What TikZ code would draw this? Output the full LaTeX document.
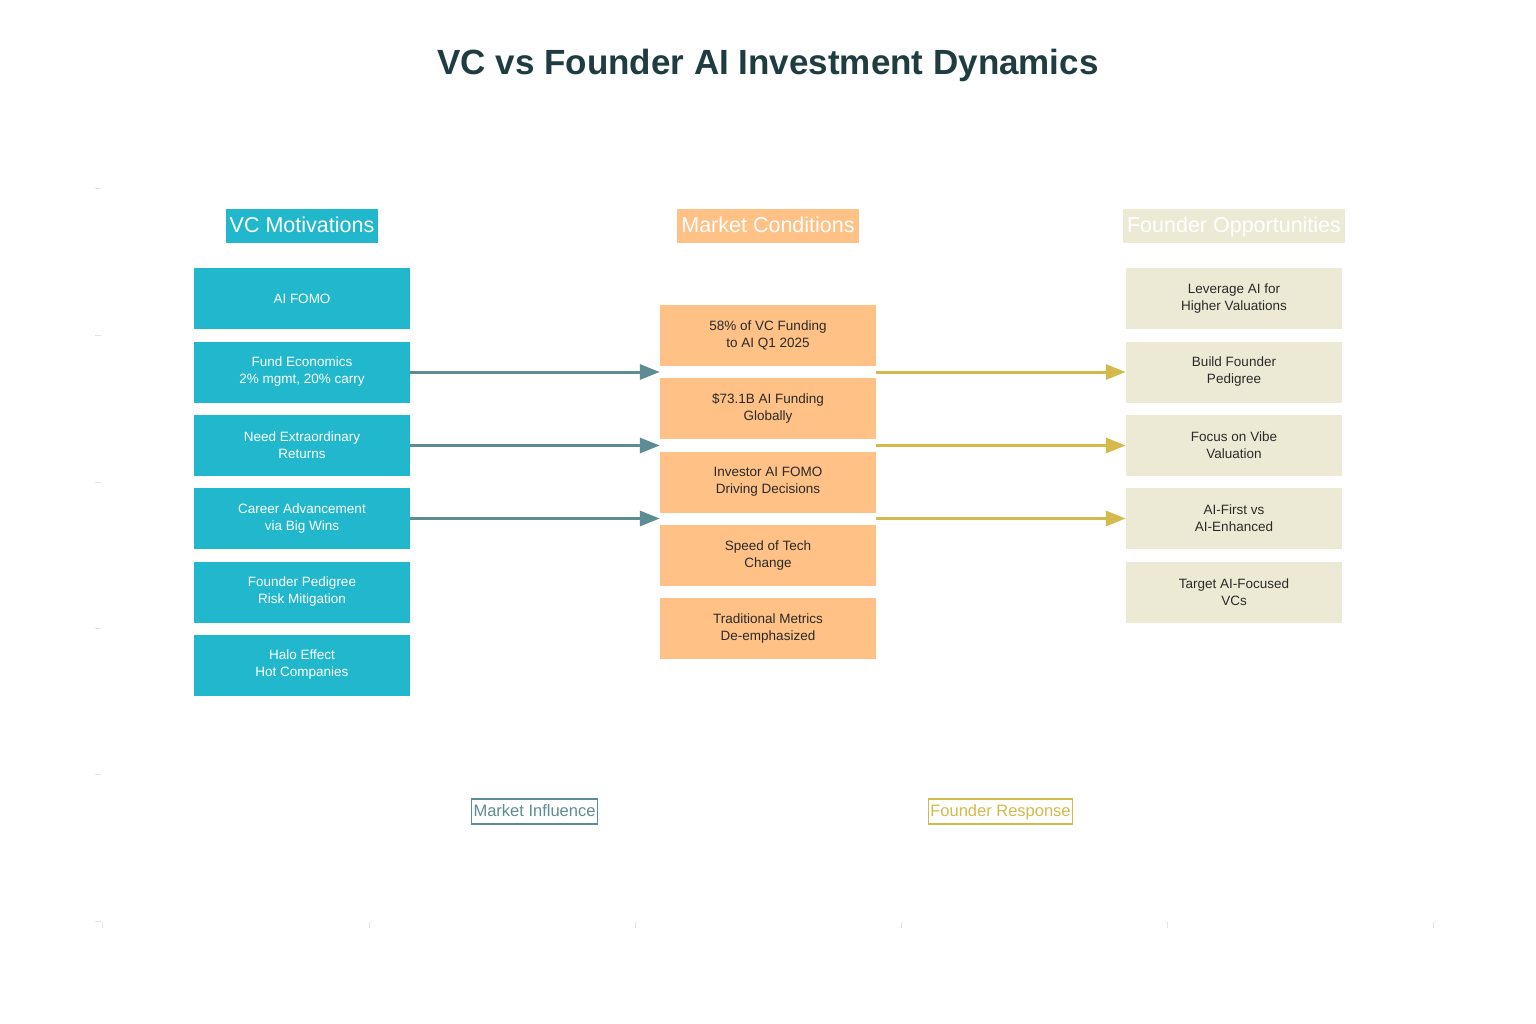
\documentclass[tikz,border=0pt]{standalone}
\usepackage{fontspec}
\setmainfont{Liberation Sans}
\usetikzlibrary{arrows.meta}
\definecolor{vcteal}{HTML}{21B8CE}
\definecolor{mkorange}{HTML}{FFC185}
\definecolor{fdbeige}{HTML}{ECEAD5}
\definecolor{titlecol}{HTML}{1F3D40}
\definecolor{influence}{HTML}{5E8C94}
\definecolor{response}{HTML}{D4BA4C}
\definecolor{darktext}{HTML}{2A2A2A}
\definecolor{tickcol}{HTML}{E2E2E2}
\begin{document}
\begin{tikzpicture}[x=1pt,y=-1pt,
  cardbox/.style={minimum width=216pt,minimum height=61pt,inner sep=0pt,align=center,
    font=\fontsize{13.5}{17}\selectfont},
  vcbox/.style={cardbox,fill=vcteal,text=white},
  mkbox/.style={cardbox,fill=mkorange,text=darktext},
  fdbox/.style={cardbox,fill=fdbeige,text=darktext},
  hdr/.style={inner xsep=4pt,minimum height=34pt,inner ysep=0pt,text=white,
    text height=18.5pt,text depth=4.5pt,
    font=\fontsize{21.5}{25}\selectfont},
  infl/.style={draw=influence,line width=3pt,-{Triangle[length=20pt,width=15pt]}},
  resp/.style={draw=response,line width=3pt,-{Triangle[length=20pt,width=15pt]}},
  legbox/.style={draw=#1,text=#1,line width=1.2pt,inner xsep=2pt,inner ysep=0pt,
    minimum height=25pt,text height=13pt,text depth=3.5pt,
    font=\fontsize{16.5}{19}\selectfont},
  tick/.style={draw=tickcol,line width=0.8pt}]
\useasboundingbox[fill=white] (0,0) rectangle (1536,1024);

% faint axis ticks
\foreach \yy in {188,335,482,628,774,921} \draw[tick] (95,\yy) -- (101,\yy);
\foreach \xx in {102,369,635,901,1167,1433} \draw[tick] (\xx,922) -- (\xx,928);

% title
\node[text=titlecol,font=\fontsize{35}{40}\bfseries\selectfont] (title) at (768,65) {VC vs Founder AI Investment Dynamics};

% headers
\node[hdr,fill=vcteal] (h1) at (302,226) {VC Motivations};
\node[hdr,fill=mkorange] (h2) at (768,226) {Market Conditions};
\node[hdr,fill=fdbeige] (h3) at (1234,226) {Founder Opportunities};

% VC column
\node[vcbox] (v1) at (302,298.5) {AI FOMO};
\node[vcbox] (v2) at (302,372) {Fund Economics\\2\% mgmt, 20\% carry};
\node[vcbox] (v3) at (302,445.5) {Need Extraordinary\\Returns};
\node[vcbox] (v4) at (302,518.5) {Career Advancement\\via Big Wins};
\node[vcbox] (v5) at (302,592) {Founder Pedigree\\Risk Mitigation};
\node[vcbox] (v6) at (302,665) {Halo Effect\\Hot Companies};

% Market column
\node[mkbox] (m1) at (768,335.5) {58\% of VC Funding\\to AI Q1 2025};
\node[mkbox] (m2) at (768,408.5) {\$73.1B AI Funding\\Globally};
\node[mkbox] (m3) at (768,482) {Investor AI FOMO\\Driving Decisions};
\node[mkbox] (m4) at (768,555.5) {Speed of Tech\\Change};
\node[mkbox] (m5) at (768,628.5) {Traditional Metrics\\De-emphasized};

% Founder column
\node[fdbox] (f1) at (1234,298.5) {Leverage AI for\\Higher Valuations};
\node[fdbox] (f2) at (1234,372) {Build Founder\\Pedigree};
\node[fdbox] (f3) at (1234,445.5) {Focus on Vibe\\Valuation};
\node[fdbox] (f4) at (1234,518.5) {AI-First vs\\AI-Enhanced};
\node[fdbox] (f5) at (1234,592) {Target AI-Focused\\VCs};

% arrow targets between market boxes
\coordinate (t1) at (m1.south west |- v2.east);
\coordinate (t2) at (m2.south west |- v3.east);
\coordinate (t3) at (m3.south west |- v4.east);
\coordinate (s1) at (m1.south east |- f2.west);
\coordinate (s2) at (m2.south east |- f3.west);
\coordinate (s3) at (m3.south east |- f4.west);

\draw[infl] (v2.east) -- (t1);
\draw[infl] (v3.east) -- (t2);
\draw[infl] (v4.east) -- (t3);
\draw[resp] (s1) -- (f2.west);
\draw[resp] (s2) -- (f3.west);
\draw[resp] (s3) -- (f4.west);

% legend
\node[legbox=influence] (l1) at (534.5,811.5) {Market Influence};
\node[legbox=response] (l2) at (1000.5,811.5) {Founder Response};
\end{tikzpicture}
\end{document}
